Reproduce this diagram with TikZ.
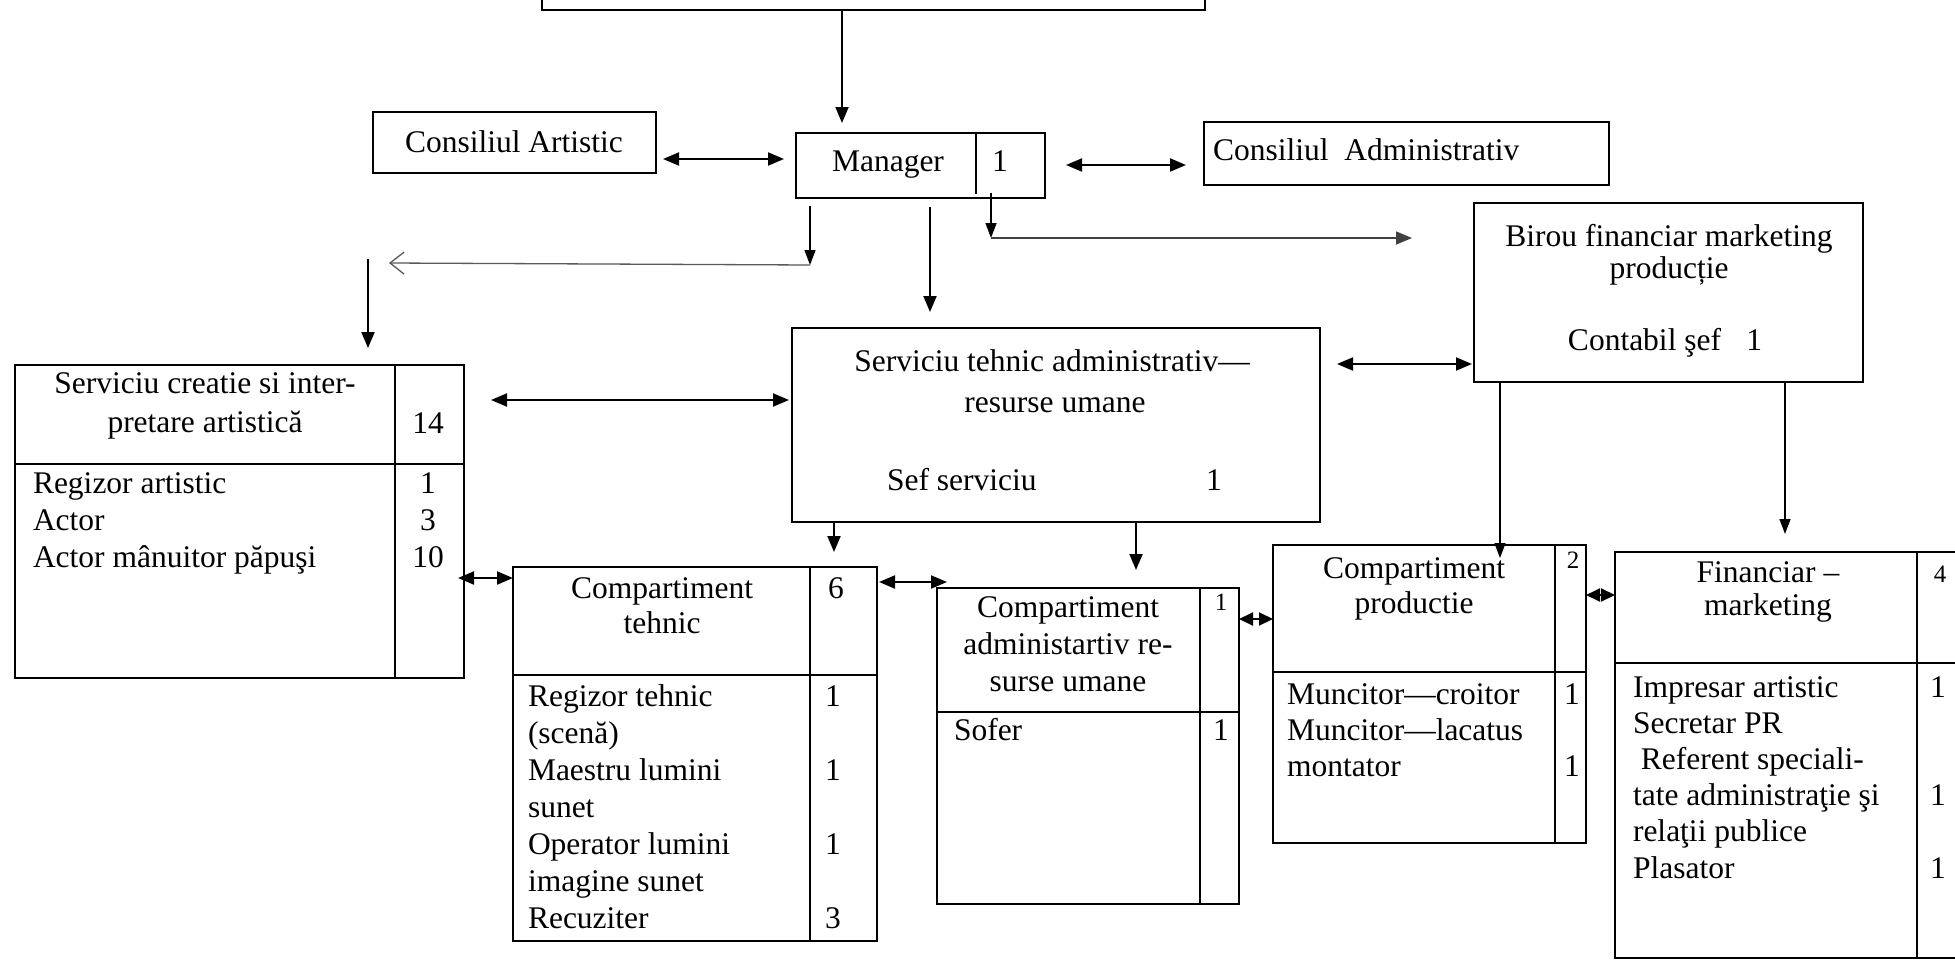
\documentclass[tikz,border=0pt]{standalone}
\usepackage{fontspec}
\setmainfont{Liberation Serif}
\usetikzlibrary{arrows.meta}
\begin{document}
\begin{tikzpicture}[x=1pt,y=-1pt,
  box/.style={draw, line width=2.4pt, rectangle, inner sep=0pt, outer sep=0pt, anchor=north west},
  div/.style={line width=2.2pt},
  arr/.style={line width=2pt, -{Triangle[length=16pt,width=13pt]}},
  darr/.style={line width=2pt, {Triangle[length=16pt,width=13pt]}-{Triangle[length=16pt,width=13pt]}},
  tarr/.style={line width=1.4pt, -{Triangle[length=15pt,width=11pt]}},
  harr/.style={line width=1.5pt, black!75, -{Triangle[length=16pt,width=13pt]}},
  dia/.style={line width=2pt, {Triangle[length=14pt,width=13pt]}-{Triangle[length=14pt,width=13pt]}},
  oarr/.style={line width=1.3pt, black!65, -{Straight Barb[length=14pt,width=22pt]}},
  txtc/.style={inner sep=0pt, outer sep=0pt, anchor=base, font=\fontsize{31.5pt}{37pt}\selectfont},
  txtl/.style={inner sep=0pt, outer sep=0pt, anchor=base west, font=\fontsize{31.5pt}{37pt}\selectfont},
  smallnum/.style={inner sep=0pt, outer sep=0pt, anchor=base, font=\fontsize{25pt}{30pt}\selectfont}
]
\fill[white] (0,0) rectangle (1955,961);
\useasboundingbox (0,0) rectangle (1955,961);

% top box
\node[box, minimum width=663pt, minimum height=80pt] (top) at (542,-70) {};

% Manager
\node[box, minimum width=249pt, minimum height=65pt] (man) at (796,133) {};
\draw[div] (man.north west) ++(180,0) -- ++(0,61);
\node[txtc] (mantxt) at (888,171) {Manager};
\node[txtc] (mannum) at (1000,171) {1};

% Consiliul Artistic
\node[box, minimum width=283pt, minimum height=61pt] (ca) at (373,112) {};
\node[txtc] (catxt) at (514,152) {Consiliul Artistic};

% Consiliul Administrativ
\node[box, minimum width=405pt, minimum height=63pt] (cadm) at (1204,122) {};
\node[txtl] (cadmtxt) at (1213,160) {Consiliul\ \ Administrativ};

% Birou
\node[box, minimum width=389pt, minimum height=179pt] (bir) at (1474,203) {};
\node[txtc] (bir1) at (1669,246) {Birou financiar marketing};
\node[txtc] (bir2) at (1669,278) {producție};
\node[txtc] (bir3) at (1665,350) {Contabil şef\hspace{0.8em}1};

% Serviciu tehnic
\node[box, minimum width=528pt, minimum height=194pt] (st) at (792,328) {};
\node[txtc] (st1) at (1052,371) {Serviciu tehnic administrativ—};
\node[txtc] (st2) at (1055,412) {resurse umane};
\node[txtl] (st3) at (887,490) {Sef serviciu};
\node[txtc] (st4) at (1214,490) {1};

% Serviciu creatie
\node[box, minimum width=449pt, minimum height=313pt] (sc) at (15,365) {};
\draw[div] (sc.north west) ++(380,0) -- ++(0,313);
\draw[div] (sc.north west) ++(0,99) -- ++(449,0);
\node[txtc] (sc1) at (205,393) {Serviciu creatie si inter-};
\node[txtc] (sc2) at (205,432) {pretare artistică};
\node[txtc] (sc3) at (428,433) {14};
\node[txtl, font=\fontsize{31.5pt}{37pt}\selectfont] (sclist) at (33,493)
  {\begin{tabular}[t]{@{}l@{}}Regizor artistic\\Actor\\Actor mânuitor păpuşi\end{tabular}};
\node[txtc, font=\fontsize{31.5pt}{37pt}\selectfont] (scnum) at (428,493)
  {\begin{tabular}[t]{@{}c@{}}1\\3\\10\end{tabular}};

% Compartiment tehnic
\node[box, minimum width=364pt, minimum height=374pt] (ct) at (513,567) {};
\draw[div] (ct.north west) ++(297,0) -- ++(0,374);
\draw[div] (ct.north west) ++(0,108) -- ++(364,0);
\node[txtc] (ct1) at (662,598) {Compartiment};
\node[txtc] (ct2) at (662,633) {tehnic};
\node[txtc] (ct3) at (836,598) {6};
\node[txtl] (ctlist) at (528,706)
  {\begin{tabular}[t]{@{}l@{}}Regizor tehnic\\(scenă)\\Maestru lumini\\sunet\\Operator lumini\\imagine sunet\\Recuziter\end{tabular}};
\node[txtc] (ctnum) at (833,706)
  {\begin{tabular}[t]{@{}c@{}}1\\ \\1\\ \\1\\ \\3\end{tabular}};

% Compartiment administrativ
\node[box, minimum width=302pt, minimum height=316pt] (cad) at (937,588) {};
\draw[div] (cad.north west) ++(263,0) -- ++(0,316);
\draw[div] (cad.north west) ++(0,124) -- ++(302,0);
\node[txtc] (cadt) at (1068,617)
  {\begin{tabular}[t]{@{}c@{}}Compartiment\\administartiv re-\\surse umane\end{tabular}};
\node[smallnum] (cadn) at (1221,610) {1};
\node[txtl] (cad2) at (954,740) {Sofer};
\node[txtc] (cad3) at (1221,740) {1};

% Compartiment productie
\node[box, minimum width=313pt, minimum height=298pt] (cp) at (1273,545) {};
\draw[div] (cp.north west) ++(282,0) -- ++(0,298);
\draw[div] (cp.north west) ++(0,127) -- ++(313,0);
\node[txtc] (cp1) at (1414,578) {Compartiment};
\node[txtc] (cp2) at (1414,613) {productie};
\node[smallnum] (cp3) at (1573,568) {2};
\node[txtl, font=\fontsize{31.5pt}{36pt}\selectfont] (cplist) at (1287,704)
  {\begin{tabular}[t]{@{}l@{}}Muncitor—croitor\\Muncitor—lacatus\\montator\end{tabular}};
\node[txtc, font=\fontsize{31.5pt}{36pt}\selectfont] (cpnum) at (1572,704)
  {\begin{tabular}[t]{@{}c@{}}1\\ \\1\end{tabular}};

% Financiar marketing
\node[box, minimum width=360pt, minimum height=406pt] (fin) at (1615,552) {};
\draw[div] (fin.north west) ++(302,0) -- ++(0,406);
\draw[div] (fin.north west) ++(0,111) -- ++(360,0);
\node[txtc] (fin1) at (1768,582) {Financiar –};
\node[txtc] (fin2) at (1768,615) {marketing};
\node[smallnum] (fin3) at (1940,582) {4};
\node[txtl, font=\fontsize{31.5pt}{36.2pt}\selectfont] (finlist) at (1633,697)
  {\begin{tabular}[t]{@{}l@{}}Impresar artistic\\Secretar PR\\\hspace{0.25em}Referent speciali-\\tate administraţie şi\\relaţii publice\\Plasator\end{tabular}};
\node[txtc, font=\fontsize{31.5pt}{36.2pt}\selectfont] (finnum) at (1938,697)
  {\begin{tabular}[t]{@{}c@{}}1\\ \\ \\1\\ \\1\end{tabular}};

% connectors
\coordinate (j1) at (991,238);
\coordinate (j2) at (810,265);
\coordinate (j3) at (389,263);
\coordinate (j4) at (368,259);

\draw[arr, shorten >=10pt] (top.south -| 842,0) -- (man.north -| 842,0);
\draw[darr, shorten <=7pt, shorten >=12pt] (ca.east |- 0,159) -- (man.west |- 0,159);
\draw[darr, shorten <=21pt, shorten >=18pt] (man.east |- 0,165) -- (cadm.west |- 0,165);
\draw[tarr, shorten <=-5pt] (man.south -| j1) -- (j1);
\draw[harr, shorten >=62pt] (j1) -- (bir.west |- j1);
\draw[tarr, shorten <=8pt] (man.south -| j2) -- (j2);
\draw[oarr] (j2) -- (j3);
\draw[arr, shorten >=17pt] (j4) -- (sc.north -| j4);
\draw[arr, shorten <=9pt, shorten >=16pt] (man.south -| 930,0) -- (st.north -| 930,0);
\draw[darr, shorten <=27pt, shorten >=3pt] (sc.east |- 0,400) -- (st.west |- 0,400);
\draw[darr, shorten <=17pt, shorten >=2pt] (st.east |- 0,364) -- (bir.west |- 0,364);
\draw[arr, shorten >=15pt] (st.south -| 834,0) -- (ct.north -| 834,0);
\draw[arr, shorten >=18pt] (st.south -| 1136,0) -- (cad.north -| 1136,0);
\draw[darr, shorten <=-6pt] (sc.east |- 0,578) -- (ct.west |- 0,578);
\draw[darr, shorten <=2pt, shorten >=-10pt] (ct.east |- 0,582) -- (cad.west |- 0,582);
\draw[dia] (cad.east |- 0,619) -- (cp.west |- 0,619);
\draw[dia] (cp.east |- 0,595) -- (fin.west |- 0,595);
\draw[tarr, shorten >=-13pt] (bir.south -| 1500,0) -- (cp.north -| 1500,0);
\draw[tarr, shorten >=18pt] (bir.south -| 1785,0) -- (fin.north -| 1785,0);
\end{tikzpicture}
\end{document}
